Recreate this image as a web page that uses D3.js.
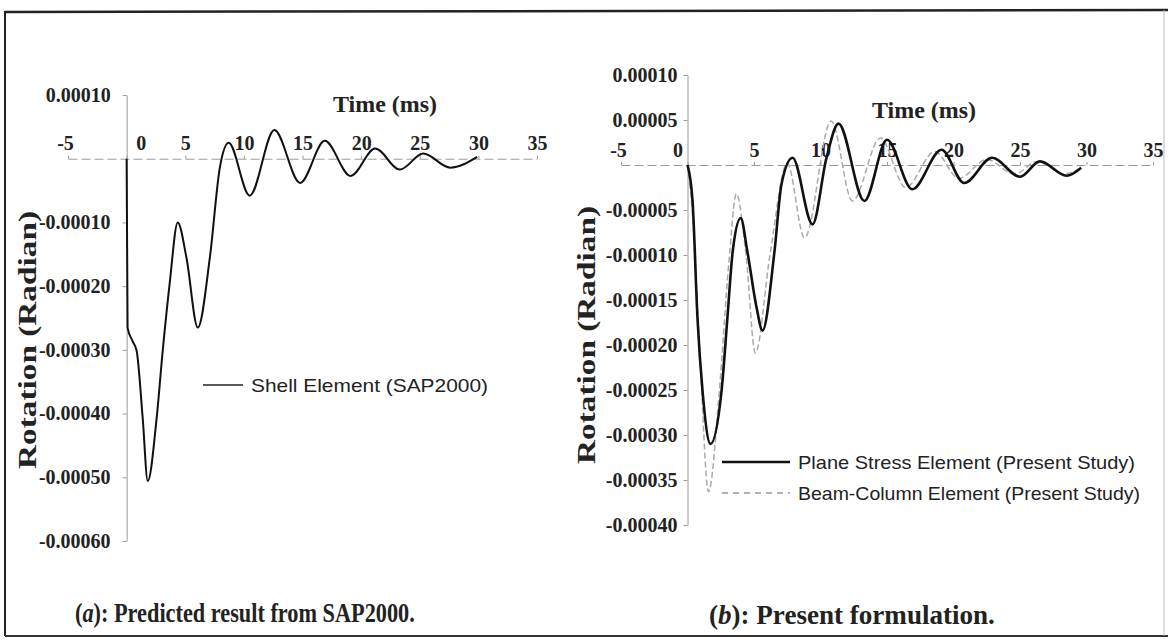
<!DOCTYPE html>
<html>
<head>
<meta charset="utf-8">
<script src="https://cdn.jsdelivr.net/npm/d3@7"></script>
<style>
  body { margin: 0; background: #fff; }
  svg { display: block; }
</style>
</head>
<body>
<script>
// time in ms, rotation in radian
var leftTime = [0, 0.08, 0.5, 0.85, 1.37, 1.8, 2.56, 3.08, 3.67, 4.36, 5.1, 6.07, 7.1, 7.95, 8.7, 10.5, 12.6, 14.8, 16.9, 19.1, 21.2, 23.3, 25.3, 27.6, 29.9]
var leftRot = [0, -0.000265, -0.000286, -0.000301, -0.000407, -0.000506, -0.000407, -0.000301, -0.000196, -0.0001, -0.000155, -0.000265, -0.000155, -0.000014, 0.000025, -0.000058, 0.000045, -0.000038, 0.000028, -0.000027, 0.000016, -0.000017, 0.000008, -0.000014, 0.000003]

var solidTime = [0, 0.38, 0.75, 1.13, 1.73, 2.56, 3.0, 3.4, 4.0, 4.5, 5.2, 5.64, 6.54, 7.07, 7.9, 9.4, 10.45, 11.35, 13.3, 15.0, 16.9, 19.1, 20.8, 22.9, 25.0, 26.5, 28.5, 29.6]
var solidRot = [0, -0.00004, -0.00017, -0.000251, -0.00031, -0.000251, -0.00017, -0.000096, -0.000059, -0.000096, -0.000159, -0.000184, -0.000096, -0.000021, 0.000008, -0.000066, 0.000008, 0.000046, -0.00004, 0.000028, -0.000027, 0.000017, -0.00002, 0.000008, -0.000013, 0.000004, -0.000012, -0.000003]

var dashTime = [0, 0.4, 0.9, 1.58, 2.4, 3.1, 3.68, 4.4, 5.1, 6.2, 7.5, 8.8, 10.8, 12.4, 14.5, 16.4, 18.6, 20.4, 22.5, 24.6, 26.3, 28.3, 29.6]
var dashRot = [0, -0.00006, -0.0002, -0.000363, -0.00025, -0.00011, -0.000032, -0.0001, -0.000209, -0.0001, 0.000002, -0.000081, 0.000049, -0.00004, 0.00003, -0.000025, 0.000015, -0.000015, 0.000006, -0.00001, 0.000004, -0.00001, -0.000003]

var xTicks = [-5, 0, 5, 10, 15, 20, 25, 30, 35]
var leftYTicks = [0.0001, -0.0001, -0.0002, -0.0003, -0.0004, -0.0005, -0.0006]
var rightYTicks = [0.0001, 0.00005, -0.00005, -0.0001, -0.00015, -0.0002, -0.00025, -0.0003, -0.00035, -0.0004]

var width = 1168, height = 644
var serif = "'Liberation Serif', 'Times New Roman', serif"
var sans = "'Liberation Sans', Arial, sans-serif"

var svg = d3.select("body").append("svg")
    .attr("width", width)
    .attr("height", height)

// frame of the scanned figure
svg.append("line").attr("x1", 5).attr("y1", 12).attr("x2", 1168).attr("y2", 10)
    .attr("stroke", "#222").attr("stroke-width", 2.5)
svg.append("line").attr("x1", 5).attr("y1", 11).attr("x2", 5).attr("y2", 636)
    .attr("stroke", "#222").attr("stroke-width", 2)
svg.append("line").attr("x1", 5).attr("y1", 636).attr("x2", 1168).attr("y2", 636)
    .attr("stroke", "#333").attr("stroke-width", 2)
svg.append("line").attr("x1", 1164).attr("y1", 10).attr("x2", 1164).attr("y2", 636)
    .attr("stroke", "#bbb").attr("stroke-width", 1)

function zip(t, v) {
    return t.map(function (d, i) { return {t: d, v: v[i]} })
}

function drawPanel(cfg) {
    var x = d3.scaleLinear().domain([-5, 35]).range(cfg.xRange)
    var y = d3.scaleLinear().domain(cfg.yDomain).range(cfg.yRange)
    var g = svg.append("g")

    // y axis
    var yAxis = d3.axisLeft(y)
        .tickValues(cfg.yTicks)
        .tickSize(4)
        .tickSizeOuter(0)
        .tickPadding(cfg.yPad)
        .tickFormat(function (d) { return d.toFixed(5) })
    var ya = g.append("g")
        .attr("transform", "translate(" + x(0) + ",0)")
        .call(yAxis)
    ya.select(".domain").attr("stroke", "#999")
    ya.selectAll(".tick line").attr("stroke", "#999")
    ya.selectAll("text")
        .attr("font-family", serif)
        .attr("font-weight", "bold")
        .attr("font-size", 20)
        .attr("fill", "#222")

    // x axis, labels above the line
    var xAxis = d3.axisTop(x)
        .tickValues(xTicks)
        .tickSize(3)
        .tickSizeOuter(0)
        .tickPadding(cfg.xPad)
        .tickFormat(String)
    var xa = g.append("g")
        .attr("transform", "translate(0," + y(0) + ")")
        .call(xAxis)
    xa.select(".domain").attr("stroke", "#999").attr("stroke-dasharray", "9,4")
    xa.selectAll(".tick line").attr("stroke", "#999")
    xa.selectAll("text")
        .attr("font-family", serif)
        .attr("font-weight", "bold")
        .attr("font-size", 20)
        .attr("fill", "#222")
        .attr("dx", function (d) { return d === 0 ? cfg.zeroShift : (d === -5 ? -3 : 0) })

    var line = d3.line()
        .x(function (d) { return x(d.t) })
        .y(function (d) { return y(d.v) })
        .curve(d3.curveMonotoneX)

    cfg.series.forEach(function (s) {
        g.append("path")
            .attr("d", line(s.data))
            .attr("fill", "none")
            .attr("stroke", s.color)
            .attr("stroke-width", s.width)
            .attr("stroke-dasharray", s.dash)
    })

    // titles
    g.append("text")
        .attr("x", cfg.timeTitle[0]).attr("y", cfg.timeTitle[1])
        .attr("font-family", serif).attr("font-weight", "bold")
        .attr("font-size", 23).attr("fill", "#222")
        .attr("textLength", 104).attr("lengthAdjust", "spacingAndGlyphs")
        .text("Time (ms)")
    g.append("text")
        .attr("transform", "translate(" + cfg.rotTitle[0] + "," + cfg.rotTitle[1] + ") rotate(-90)")
        .attr("x", -129)
        .attr("font-family", serif).attr("font-weight", "bold")
        .attr("font-size", 25).attr("fill", "#222")
        .attr("textLength", 258).attr("lengthAdjust", "spacingAndGlyphs")
        .text("Rotation (Radian)")

    // legend
    cfg.legend.forEach(function (l) {
        g.append("line")
            .attr("x1", l.x1).attr("x2", l.x2).attr("y1", l.y).attr("y2", l.y)
            .attr("stroke", l.color).attr("stroke-width", l.width)
            .attr("stroke-dasharray", l.dash)
        g.append("text")
            .attr("x", l.x2 + 8).attr("y", l.y + 7)
            .attr("font-family", sans).attr("font-size", 19).attr("fill", "#222")
            .attr("textLength", l.len).attr("lengthAdjust", "spacingAndGlyphs")
            .text(l.label)
    })
}

drawPanel({
    xRange: [68, 537],
    yDomain: [-0.0006, 0.0001],
    yRange: [541, 95],
    yTicks: leftYTicks,
    yPad: 12,
    xPad: 6,
    zeroShift: 14,
    timeTitle: [333, 112],
    rotTitle: [36, 340],
    series: [
        {data: zip(leftTime, leftRot), color: "#111", width: 2, dash: null}
    ],
    legend: [
        {x1: 203, x2: 243, y: 385, color: "#222", width: 1.5, dash: null, label: "Shell Element (SAP2000)", len: 237}
    ]
})

drawPanel({
    xRange: [621, 1153],
    yDomain: [-0.0004, 0.0001],
    yRange: [525, 75],
    yTicks: rightYTicks,
    yPad: 6,
    xPad: 5,
    zeroShift: -10,
    timeTitle: [872, 118],
    rotTitle: [595, 335],
    series: [
        {data: zip(dashTime, dashRot), color: "#aaa", width: 1.5, dash: "6,3"},
        {data: zip(solidTime, solidRot), color: "#111", width: 2.6, dash: null}
    ],
    legend: [
        {x1: 722, x2: 790, y: 462, color: "#111", width: 2.6, dash: null, label: "Plane Stress Element (Present Study)", len: 337},
        {x1: 722, x2: 790, y: 493, color: "#999", width: 1.5, dash: "6,5", label: "Beam-Column Element (Present Study)", len: 342}
    ]
})

// captions, squeezed sideways to the width seen in the scan
function caption(x, y, letter, rest, targetWidth) {
    var t = svg.append("text")
        .attr("font-family", serif).attr("font-weight", "bold")
        .attr("font-size", 28).attr("fill", "#222")
    t.append("tspan").text("(")
    t.append("tspan").attr("font-style", "italic").text(letter)
    t.append("tspan").text(rest)
    var w = t.node().getComputedTextLength()
    t.attr("transform", "translate(" + x + "," + y + ") scale(" + (targetWidth / w) + ",1)")
}
caption(75, 622, "a", "): Predicted result from SAP2000.", 340)
caption(709, 624, "b", "): Present formulation.", 286)
</script>
</body>
</html>
